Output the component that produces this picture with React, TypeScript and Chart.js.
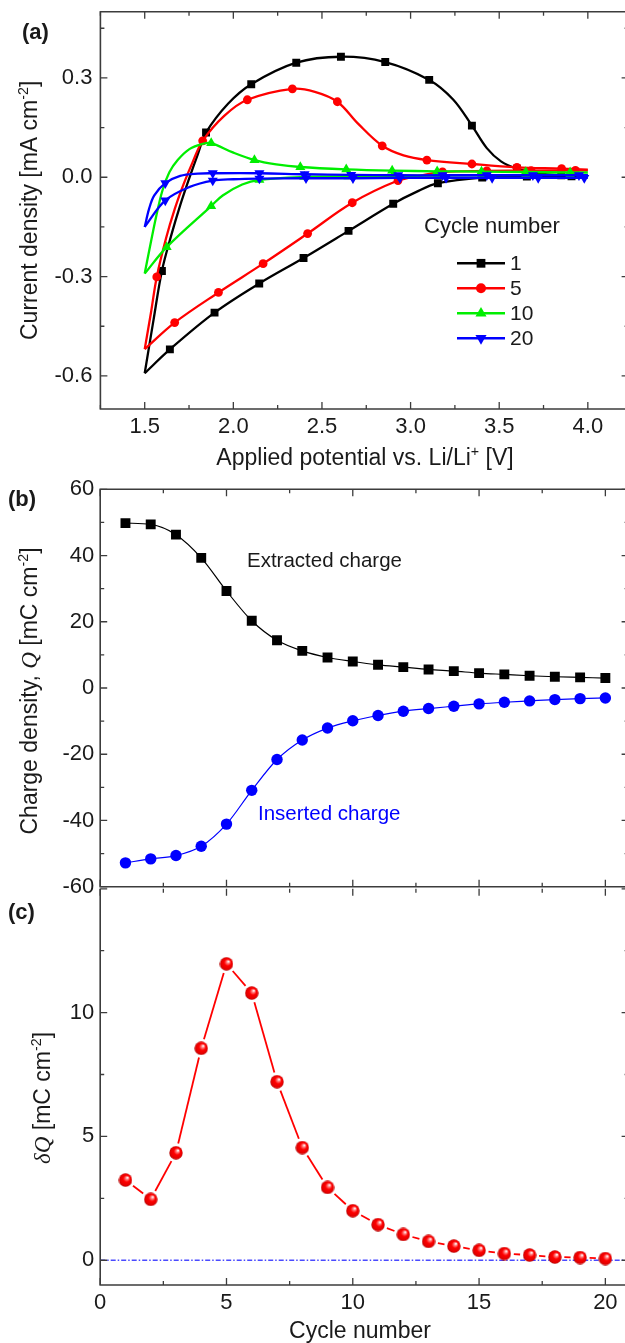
import React, { useEffect, useRef } from 'react';
import { Chart, registerables } from 'chart.js';
Chart.register(...registerables);

const SANS = '"Liberation Sans", Arial, Helvetica, sans-serif';
const SERIF = '"Liberation Serif", "DejaVu Serif", serif';
const INK = '#1a1a1a';
const FRAME = '#3c3c3c';

// ---------------- Panel (a): cyclic voltammograms ----------------
const potentialTicks = [1.5, 2.0, 2.5, 3.0, 3.5, 4.0];
const potentialMinor = [1.25, 1.75, 2.25, 2.75, 3.25, 3.75];
const currentTicks = [-0.6, -0.3, 0.0, 0.3];
const currentMinor = [-0.45, -0.15, 0.15, 0.45];
const cycleLabels = ['1', '5', '10', '20'];

// loops: cathodic sweep 4.0 -> 1.5, then anodic sweep 1.5 -> 4.0  [V, mA cm-2]
const cycle1: [number, number][] = [
  [4.0, 0.004], [3.908, 0.003], [3.656, 0.002], [3.404, -0.001], [3.154, -0.018], [3.03, -0.045],
  [2.902, -0.08], [2.65, -0.162], [2.396, -0.244], [2.146, -0.321], [1.894, -0.409], [1.642, -0.52],
  [1.5, -0.592],
  [1.55, -0.43], [1.597, -0.283], [1.65, -0.175], [1.7, -0.085], [1.75, -0.005], [1.8, 0.07],
  [1.846, 0.135], [1.97, 0.222], [2.101, 0.281], [2.355, 0.346], [2.607, 0.364], [2.857, 0.348],
  [3.105, 0.294], [3.24, 0.235], [3.346, 0.156], [3.43, 0.088], [3.51, 0.048], [3.6, 0.026],
  [3.72, 0.012], [3.85, 0.006], [4.0, 0.004],
];
const cycle1Symbols = [1, 2, 3, 4, 6, 7, 8, 9, 10, 11, 14, 19, 21, 22, 23, 24, 25, 27, 30, 32];

const cycle5: [number, number][] = [
  [4.0, 0.021], [3.93, 0.021], [3.68, 0.02], [3.43, 0.019], [3.18, 0.016], [3.05, 0.004],
  [2.929, -0.01], [2.671, -0.077], [2.419, -0.17], [2.168, -0.261], [1.916, -0.348], [1.669, -0.439],
  [1.5, -0.519],
  [1.535, -0.41], [1.568, -0.301], [1.62, -0.185], [1.67, -0.095], [1.72, -0.02], [1.77, 0.045],
  [1.827, 0.11], [1.95, 0.186], [2.079, 0.234], [2.333, 0.267], [2.46, 0.258], [2.587, 0.228],
  [2.705, 0.161], [2.84, 0.095], [2.96, 0.066], [3.092, 0.052], [3.346, 0.04], [3.6, 0.03],
  [3.852, 0.026], [4.0, 0.023],
];
const cycle5Symbols = [1, 2, 3, 4, 6, 7, 8, 9, 10, 11, 14, 19, 21, 22, 24, 26, 28, 29, 30, 31];

const cycle10: [number, number][] = [
  [4.0, 0.008], [3.9, 0.008], [3.65, 0.007], [3.4, 0.006], [3.15, 0.005], [2.9, 0.004],
  [2.65, 0.003], [2.4, 0.001], [2.147, -0.008], [2.05, -0.022], [1.94, -0.055], [1.875, -0.087],
  [1.624, -0.211], [1.5, -0.291],
  [1.526, -0.22], [1.564, -0.12], [1.6, -0.04], [1.639, 0.015], [1.686, 0.052], [1.752, 0.085],
  [1.827, 0.101], [1.875, 0.103], [1.997, 0.075], [2.119, 0.052], [2.242, 0.039], [2.378, 0.031],
  [2.637, 0.024], [2.896, 0.02], [3.15, 0.018], [3.4, 0.017], [3.65, 0.016], [3.9, 0.015], [4.0, 0.015],
];
const cycle10Symbols = [1, 2, 3, 4, 5, 6, 7, 8, 11, 12, 21, 23, 25, 26, 27, 28, 29, 30, 31];

const cycle20: [number, number][] = [
  [4.0, -0.002], [3.98, -0.002], [3.72, -0.002], [3.46, -0.002], [3.2, -0.002], [2.94, -0.002],
  [2.675, -0.003], [2.41, -0.003], [2.147, -0.004], [2.0, -0.006], [1.884, -0.01], [1.75, -0.03],
  [1.616, -0.07], [1.5, -0.15],
  [1.525, -0.095], [1.554, -0.055], [1.616, -0.018], [1.7, 0.004], [1.8, 0.011], [1.884, 0.012],
  [2.147, 0.012], [2.402, 0.009], [2.665, 0.007], [2.93, 0.006], [3.18, 0.006], [3.43, 0.006],
  [3.69, 0.006], [3.95, 0.006], [4.0, 0.006],
];
const cycle20Symbols = [1, 2, 3, 4, 5, 6, 7, 8, 10, 12, 16, 19, 20, 21, 22, 23, 24, 25, 26, 27];

// ---------------- Panel (b): charge densities ----------------
const cycles = [1, 2, 3, 4, 5, 6, 7, 8, 9, 10, 11, 12, 13, 14, 15, 16, 17, 18, 19, 20];
const extractedCharge = [49.8, 49.4, 46.3, 39.3, 29.3, 20.3, 14.4, 11.2, 9.2, 8.0, 7.0, 6.3, 5.6, 5.1, 4.5, 4.1, 3.7, 3.4, 3.2, 3.0];
const insertedCharge = [-52.8, -51.6, -50.6, -47.8, -41.1, -30.9, -21.6, -15.7, -12.1, -9.9, -8.3, -7.0, -6.2, -5.5, -4.8, -4.3, -3.9, -3.5, -3.2, -3.0];
const cycleTicks = [0, 5, 10, 15, 20];
const cycleMinor = [2.5, 7.5, 12.5, 17.5];
const chargeTicks = [-60, -40, -20, 0, 20, 40, 60];
const chargeMinor = [-50, -30, -10, 10, 30, 50];

// ---------------- Panel (c): charge difference ----------------
const deltaQ = [3.24, 2.46, 4.34, 8.56, 11.97, 10.79, 7.21, 4.55, 2.94, 2.0, 1.44, 1.04, 0.76, 0.57, 0.4, 0.27, 0.21, 0.13, 0.11, 0.07];
const deltaTicks = [0, 5, 10];
const deltaMajorMarks = [0, 5, 10, 15];
const deltaMinor = [2.5, 7.5, 12.5];

type Part = { t: string; sup?: boolean; it?: boolean };

function drawRich(ctx: CanvasRenderingContext2D, parts: Part[], cx: number, cy: number, size: number, rotate: boolean, color = INK) {
  ctx.save();
  ctx.translate(cx, cy);
  if (rotate) ctx.rotate(-Math.PI / 2);
  const fonts = parts.map((p) => `${p.it ? 'italic ' : ''}${p.sup ? size * 0.62 : size}px ${p.it ? SERIF : SANS}`);
  const widths = parts.map((p, i) => {
    ctx.font = fonts[i];
    return ctx.measureText(p.t).width;
  });
  const total = widths.reduce((a, b) => a + b, 0);
  let x = -total / 2;
  ctx.textAlign = 'left';
  ctx.textBaseline = 'alphabetic';
  ctx.fillStyle = color;
  const base = size * 0.36;
  parts.forEach((p, i) => {
    ctx.font = fonts[i];
    ctx.fillText(p.t, x, p.sup ? base - size * 0.42 : base);
    x += widths[i];
  });
  ctx.restore();
}

function drawMarker(ctx: CanvasRenderingContext2D, kind: string, x: number, y: number, r: number, color: string) {
  ctx.save();
  ctx.fillStyle = color;
  ctx.beginPath();
  if (kind === 'rect') {
    const s = r * Math.SQRT1_2;
    ctx.rect(x - s, y - s, 2 * s, 2 * s);
  } else if (kind === 'circle') {
    ctx.arc(x, y, r, 0, Math.PI * 2);
  } else {
    const dir = kind === 'up' ? 1 : -1;
    ctx.moveTo(x, y - dir * r);
    ctx.lineTo(x + r * 0.866, y + dir * r * 0.5);
    ctx.lineTo(x - r * 0.866, y + dir * r * 0.5);
    ctx.closePath();
  }
  ctx.fill();
  ctx.restore();
}

interface FrameSpec {
  xMajor: number[]; xMinor: number[]; yMajor: number[]; yMinor: number[];
  skipTop?: boolean;
  extra?: (chart: Chart) => void;
}

function framePlugin(spec: FrameSpec) {
  return {
    id: 'frame',
    afterDatasetsDraw(chart: Chart) {
      const { ctx, chartArea: a } = chart;
      const xs: any = chart.scales.x;
      const ys: any = chart.scales.y;
      ctx.save();
      ctx.strokeStyle = FRAME;
      ctx.lineWidth = 1.6;
      ctx.beginPath();
      if (spec.skipTop) {
        ctx.moveTo(a.left, a.top); ctx.lineTo(a.left, a.bottom); ctx.lineTo(a.right, a.bottom); ctx.lineTo(a.right, a.top);
      } else {
        ctx.rect(a.left, a.top, a.right - a.left, a.bottom - a.top);
      }
      ctx.stroke();
      ctx.lineWidth = 1.3;
      ctx.beginPath();
      const xt = (vals: number[], len: number) => vals.forEach((v) => {
        const p = xs.getPixelForValue(v);
        ctx.moveTo(p, a.bottom); ctx.lineTo(p, a.bottom - len);
        ctx.moveTo(p, a.top); ctx.lineTo(p, a.top + len);
      });
      const yt = (vals: number[], len: number) => vals.forEach((v) => {
        const p = ys.getPixelForValue(v);
        ctx.moveTo(a.left, p); ctx.lineTo(a.left + len, p);
        ctx.moveTo(a.right, p); ctx.lineTo(a.right - len, p);
      });
      xt(spec.xMajor, 7); xt(spec.xMinor, 4);
      yt(spec.yMajor, 7); yt(spec.yMinor, 4);
      ctx.stroke();
      ctx.restore();
    },
    afterDraw(chart: Chart) {
      if (spec.extra) spec.extra(chart);
    },
  };
}

function axis(min: number, max: number, ticks: number[], fmt: (v: number) => string, o: { labels: boolean; pad: number; width?: number; height?: number }) {
  return {
    type: 'linear' as const,
    min, max,
    grid: { display: false, drawTicks: false },
    border: { display: false },
    ticks: {
      display: o.labels, autoSkip: false, maxRotation: 0, minRotation: 0, padding: o.pad,
      font: { family: SANS, size: 22 }, color: INK,
      callback: (v: any) => fmt(Number(v)),
    },
    afterBuildTicks: (s: any) => { s.ticks = ticks.map((v) => ({ value: v })); },
    afterFit: (s: any) => {
      if (o.width !== undefined) s.width = o.width;
      if (o.height !== undefined) s.height = o.height;
      s.paddingLeft = 0; s.paddingRight = 0; s.paddingTop = 0; s.paddingBottom = 0;
    },
  };
}

const baseOptions = {
  responsive: false,
  animation: false as const,
  events: [] as any[],
  plugins: { legend: { display: false }, tooltip: { enabled: false } },
};

const cvStyles = [
  { loop: cycle1, marks: cycle1Symbols, color: '#000000', kind: 'rect', style: 'rect', rot: 0, r: 5.6, order: 4 },
  { loop: cycle5, marks: cycle5Symbols, color: '#ff0000', kind: 'circle', style: 'circle', rot: 0, r: 4.4, order: 3 },
  { loop: cycle10, marks: cycle10Symbols, color: '#00ee00', kind: 'up', style: 'triangle', rot: 0, r: 5.8, order: 2 },
  { loop: cycle20, marks: cycle20Symbols, color: '#0000ff', kind: 'down', style: 'triangle', rot: 180, r: 5.8, order: 1 },
];

function cvDatasets() {
  const out: any[] = [];
  cvStyles.forEach((c) => {
    let vi = 0;
    c.loop.forEach((p, i) => { if (p[0] < c.loop[vi][0]) vi = i; });
    [[0, vi], [vi, c.loop.length - 1]].forEach(([s, e]) => {
      const pts = c.loop.slice(s, e + 1).map(([x, y]) => ({ x, y }));
      const mk = new Set(c.marks.filter((i) => i >= s && i <= e).map((i) => i - s));
      out.push({
        data: pts,
        borderColor: c.color,
        backgroundColor: c.color,
        borderWidth: 2.3,
        tension: 0.35,
        pointStyle: c.style,
        pointRotation: c.rot,
        pointRadius: (ctx: any) => (mk.has(ctx.dataIndex) ? c.r : 0),
        pointBorderWidth: 0,
        order: c.order,
      });
    });
  });
  return out;
}

function configA(): any {
  return {
    type: 'line',
    data: { datasets: cvDatasets() },
    options: {
      ...baseOptions,
      layout: { padding: { left: 0, top: 11.7, right: 11.4, bottom: 0 } },
      scales: {
        x: axis(1.25, 4.23, potentialTicks, (v) => v.toFixed(1), { labels: true, pad: 5, height: 71 }),
        y: axis(-0.7, 0.5, currentTicks, (v) => v.toFixed(1), { labels: true, pad: 8, width: 100.4 }),
      },
    },
    plugins: [framePlugin({
      xMajor: potentialTicks, xMinor: potentialMinor, yMajor: currentTicks, yMinor: currentMinor,
      extra: (chart) => {
        const ctx = chart.ctx;
        const a = chart.chartArea;
        drawRich(ctx, [{ t: 'Current density [mA cm' }, { t: '-2', sup: true }, { t: ']' }], 29, (a.top + a.bottom) / 2, 23, true);
        drawRich(ctx, [{ t: 'Applied potential vs. Li/Li' }, { t: '+', sup: true }, { t: ' [V]' }], 365, 457, 23, false);
        ctx.save();
        ctx.font = `bold 22px ${SANS}`; ctx.fillStyle = INK; ctx.textBaseline = 'middle'; ctx.textAlign = 'left';
        ctx.fillText('(a)', 22, 33);
        ctx.font = `22px ${SANS}`;
        ctx.fillText('Cycle number', 424, 227);
        cvStyles.forEach((c, i) => {
          const y = 263.3 + i * 25;
          ctx.strokeStyle = c.color; ctx.lineWidth = 2.5;
          ctx.beginPath(); ctx.moveTo(457, y); ctx.lineTo(505, y); ctx.stroke();
          drawMarker(ctx, c.kind, 481, y, c.r + 0.6, c.color);
          ctx.fillStyle = INK; ctx.font = `21px ${SANS}`;
          ctx.fillText(cycleLabels[i], 510, y + 1);
        });
        ctx.restore();
      },
    })],
  };
}

function configB(): any {
  return {
    type: 'line',
    data: {
      datasets: [
        {
          data: cycles.map((c, i) => ({ x: c, y: extractedCharge[i] })),
          borderColor: '#000000', backgroundColor: '#000000', borderWidth: 1.2,
          cubicInterpolationMode: 'monotone', pointStyle: 'rect', pointRadius: 7, pointBorderWidth: 0,
        },
        {
          data: cycles.map((c, i) => ({ x: c, y: insertedCharge[i] })),
          borderColor: '#0000ff', backgroundColor: '#0000ff', borderWidth: 1.2,
          cubicInterpolationMode: 'monotone', pointStyle: 'circle', pointRadius: 5.7, pointBorderWidth: 0,
        },
      ],
    },
    options: {
      ...baseOptions,
      layout: { padding: { left: 0, top: 14.3, right: 11.4, bottom: 0 } },
      scales: {
        x: axis(0, 20.92, cycleTicks, (v) => String(v), { labels: false, pad: 5, height: 18.3 }),
        y: axis(-60, 60, chargeTicks, (v) => String(v), { labels: true, pad: 6, width: 100.2 }),
      },
    },
    plugins: [framePlugin({
      xMajor: cycleTicks, xMinor: cycleMinor, yMajor: chargeTicks, yMinor: chargeMinor,
      extra: (chart) => {
        const ctx = chart.ctx;
        const a = chart.chartArea;
        drawRich(ctx, [{ t: 'Charge density, ' }, { t: 'Q', it: true }, { t: ' [mC cm' }, { t: '-2', sup: true }, { t: ']' }], 29, (a.top + a.bottom) / 2 + 3, 23, true);
        ctx.save();
        ctx.font = `bold 22px ${SANS}`; ctx.fillStyle = INK; ctx.textBaseline = 'middle'; ctx.textAlign = 'left';
        ctx.fillText('(b)', 8, 25);
        ctx.font = `20.5px ${SANS}`;
        ctx.fillText('Extracted charge', 247, 86.7);
        ctx.fillStyle = '#0000ff';
        ctx.fillText('Inserted charge', 258, 339);
        ctx.restore();
      },
    })],
  };
}

function makeSphere(d: number) {
  const c = document.createElement('canvas');
  c.width = d; c.height = d;
  const g = c.getContext('2d')!;
  const r = d / 2;
  const grad = g.createRadialGradient(r * 1.3, r * 0.65, r * 0.05, r, r, r);
  grad.addColorStop(0, '#ffffff');
  grad.addColorStop(0.18, '#ff8080');
  grad.addColorStop(0.45, '#ff0000');
  grad.addColorStop(0.85, '#e00000');
  grad.addColorStop(1, '#a00000');
  g.fillStyle = grad;
  g.beginPath(); g.arc(r, r, r - 0.3, 0, Math.PI * 2); g.fill();
  return c;
}

function configC(sphere: HTMLCanvasElement): any {
  const gap = 9.5;
  return {
    type: 'line',
    data: {
      datasets: [
        {
          data: cycles.map((c, i) => ({ x: c, y: deltaQ[i] })),
          borderColor: '#ff0000', backgroundColor: '#ff0000', borderWidth: 1.8, tension: 0,
          pointStyle: sphere, pointRadius: 7, order: 1,
          segment: {
            borderDash: (ctx: any) => {
              const L = Math.hypot(ctx.p1.x - ctx.p0.x, ctx.p1.y - ctx.p0.y);
              if (L <= 2 * gap) return [0, L + 10];
              return [0, gap, L - 2 * gap, gap + 1000];
            },
          },
        },
        {
          data: [{ x: 0, y: 0 }, { x: 20.92, y: 0 }],
          borderColor: '#4a4aff', borderWidth: 1.3, borderDash: [5, 2, 1.5, 2], pointRadius: 0, order: 2,
        },
      ],
    },
    options: {
      ...baseOptions,
      layout: { padding: { left: 0, top: 6.7, right: 11.4, bottom: 0 } },
      scales: {
        x: axis(0, 20.92, cycleTicks, (v) => String(v), { labels: true, pad: 5, height: 58 }),
        y: axis(-1, 15, deltaTicks, (v) => String(v), { labels: true, pad: 6, width: 100.2 }),
      },
    },
    plugins: [framePlugin({
      xMajor: cycleTicks, xMinor: cycleMinor, yMajor: deltaMajorMarks, yMinor: deltaMinor,
      skipTop: true,
      extra: (chart) => {
        const ctx = chart.ctx;
        const a = chart.chartArea;
        drawRich(ctx, [{ t: 'δ', it: true }, { t: 'Q', it: true }, { t: ' [mC cm' }, { t: '-2', sup: true }, { t: ']' }], 42, (a.top + a.bottom) / 2 + 11, 23, true);
        drawRich(ctx, [{ t: 'Cycle number' }], 360, 450, 23, false);
        ctx.save();
        ctx.font = `bold 22px ${SANS}`; ctx.fillStyle = INK; ctx.textBaseline = 'middle'; ctx.textAlign = 'left';
        ctx.fillText('(c)', 8, 33);
        ctx.restore();
      },
    })],
  };
}

export default function App() {
  const aRef = useRef<HTMLCanvasElement>(null);
  const bRef = useRef<HTMLCanvasElement>(null);
  const cRef = useRef<HTMLCanvasElement>(null);
  useEffect(() => {
    document.body.style.margin = '0';
    const sphere = makeSphere(14);
    const charts = [
      new Chart(aRef.current!, configA()),
      new Chart(bRef.current!, configB()),
      new Chart(cRef.current!, configC(sphere)),
    ];
    return () => charts.forEach((c) => c.destroy());
  }, []);
  const cs = (top: number, h: number): React.CSSProperties => ({ position: 'absolute', left: 0, top, width: 640, height: h });
  return (
    <div style={{ position: 'absolute', left: 0, top: 0, width: 625, height: 1343, overflow: 'hidden', background: '#ffffff' }}>
      <canvas ref={aRef} width={640} height={480} style={cs(0, 480)} />
      <canvas ref={bRef} width={640} height={430} style={cs(475, 430)} />
      <canvas ref={cRef} width={640} height={463} style={cs(880, 463)} />
    </div>
  );
}
